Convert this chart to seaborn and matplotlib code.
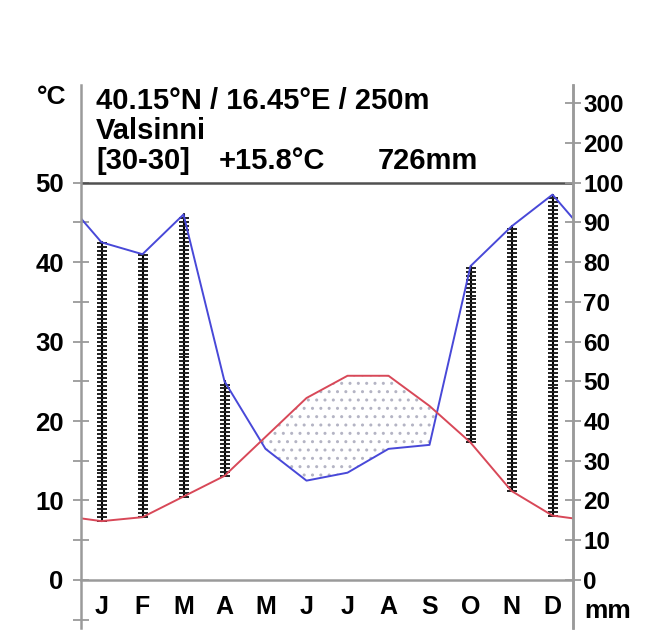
import numpy as np
import pandas as pd
import seaborn as sns
import matplotlib
matplotlib.use('Agg')
import matplotlib.pyplot as plt

# monthly climate normals, Valsinni
months = ['J', 'F', 'M', 'A', 'M', 'J', 'J', 'A', 'S', 'O', 'N', 'D']
temp_c = [7.4, 7.9, 10.5, 13.1, 18.0, 22.9, 25.7, 25.7, 21.9, 17.3, 11.2, 8.1]
precip_mm = [85, 82, 92, 50, 33, 25, 27, 33, 34, 79, 89, 97]
header = ['40.15°N / 16.45°E / 250m', 'Valsinni']
summary = ['[30-30]', '+15.8°C', '726mm']
left_ticks = [0, 10, 20, 30, 40, 50]
right_labels = [0, 10, 20, 30, 40, 50, 60, 70, 80, 90, 100, 200, 300]


def mm_to_scale(p):
    # 20 mm = 10 C below 100 mm, compressed 1:20 above
    p = np.asarray(p, dtype=float)
    return np.where(p <= 100, p / 2, 50 + (p - 100) / 20)


sns.set_style('white')
plt.rcParams['font.family'] = ['Liberation Sans', 'DejaVu Sans']
plt.rcParams['font.weight'] = 'bold'
plt.rcParams['text.color'] = 'black'

# wrap data round the year edges
xc = np.arange(12) + 0.5
xe = np.concatenate([[0], xc, [12]])
t = np.array(temp_c)
p = mm_to_scale(precip_mm)
te = np.concatenate([[(t[0] + t[-1]) / 2], t, [(t[0] + t[-1]) / 2]])
pe = np.concatenate([[(p[0] + p[-1]) / 2], p, [(p[0] + p[-1]) / 2]])
df = pd.DataFrame({'x': xe, 'temp': te, 'prec': pe})

axis_col = '#9a9a9a'
fig = plt.figure(figsize=(6.54, 6.42), dpi=100)
ax = fig.add_axes([81 / 654, 14 / 642, 492 / 654, 543 / 642])
ax.set_xlim(0, 12)
ax.set_ylim(-6.05, 62.3)

# arid period stipple
ax.fill_between(df['x'], df['temp'], df['prec'], where=df['temp'] > df['prec'],
                interpolate=True, facecolor='none', hatch='..',
                edgecolor='#b4b4c4', linewidth=0)

# humid period vertical lines
for i in range(12):
    if p[i] > t[i]:
        ys = np.arange(t[i], p[i], 0.5)
        ax.plot([xc[i], xc[i]], [t[i], p[i]], color='black', lw=1.5)
        ax.plot(np.full(len(ys), xc[i]), ys, ls='none', marker='_',
                ms=7, mew=1.4, color='#202020')

sns.lineplot(data=df, x='x', y='prec', ax=ax, color='#4848d8', lw=1.4)
sns.lineplot(data=df, x='x', y='temp', ax=ax, color='#d84858', lw=1.4)

ax.axhline(50, color='#505050', lw=1.8)

# axes styling
ax.spines['top'].set_visible(False)
ax.spines['bottom'].set_position(('data', 0))
for s in ['left', 'right', 'bottom']:
    ax.spines[s].set_color(axis_col)
    ax.spines[s].set_linewidth(1.8)

ax.set_xticks(np.arange(1, 12))
ax.set_xticklabels([])
ax.set_xticks(xc, minor=True)
ax.set_xticklabels(months, minor=True, fontsize=18, fontweight='bold')
ax.tick_params(axis='x', which='major', direction='inout', length=11,
               width=1.3, color=axis_col)
ax.tick_params(axis='x', which='minor', length=0, pad=11, labelcolor='black')

ax.set_yticks(left_ticks)
ax.set_yticklabels([str(v) for v in left_ticks], fontsize=18.5, fontweight='bold')
ax.set_yticks(np.arange(-5, 50, 10), minor=True)
ax.tick_params(axis='y', which='both', direction='inout', length=11,
               width=1.3, color=axis_col, pad=7, left=True, labelcolor='black')
ax.set_xlabel('')
ax.set_ylabel('')

ax2 = ax.twinx()
ax2.set_ylim(ax.get_ylim())
ax2.set_yticks(mm_to_scale(right_labels))
ax2.set_yticklabels([str(v) for v in right_labels], fontsize=17.5, fontweight='bold')
ax2.tick_params(axis='y', direction='inout', length=11, width=1.3,
                color=axis_col, pad=2, right=True, labelcolor='black')
for s in ['top', 'left', 'bottom']:
    ax2.spines[s].set_visible(False)
ax2.spines['right'].set_color(axis_col)
ax2.spines['right'].set_linewidth(1.8)

# texts
fig.text(37 / 654, 1 - 97 / 642, '°C', fontsize=19, fontweight='bold', va='center')
fig.text(584 / 654, 1 - 611 / 642, 'mm', fontsize=19, fontweight='bold', va='center')
for k, line in enumerate(header):
    fig.text(96 / 654, 1 - (101 + 30 * k) / 642, line, fontsize=21,
             fontweight='bold', va='center')
for xpix, part in zip([96, 219, 378], summary):
    fig.text(xpix / 654, 1 - 161 / 642, part, fontsize=21,
             fontweight='bold', va='center')

fig.savefig('out.png', dpi=100, facecolor='white')
